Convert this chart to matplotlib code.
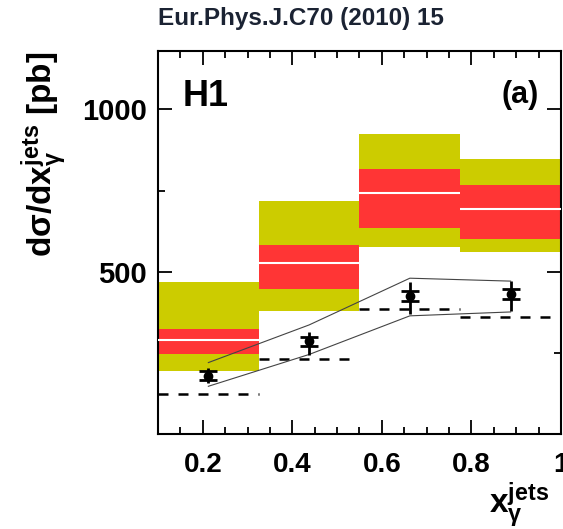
import matplotlib
matplotlib.use("Agg")
import matplotlib.pyplot as plt
from matplotlib.ticker import MultipleLocator, FixedLocator

plt.rcParams['font.family'] = ['Liberation Sans', 'DejaVu Sans']
plt.rcParams['font.weight'] = 'bold'
plt.rcParams['mathtext.fontset'] = 'custom'
plt.rcParams['mathtext.rm'] = 'Liberation Sans:bold'
plt.rcParams['mathtext.it'] = 'Liberation Sans:bold'
plt.rcParams['mathtext.bf'] = 'Liberation Sans:bold'

# bins in x_gamma^jets
bin_edges = [0.1, 0.325, 0.55, 0.775, 1.0]
centers = [0.2125, 0.4375, 0.6625, 0.8875]

# theory band (yellow = total, red = inner, white = central)
outer_lo = [193, 379, 575, 560]
outer_hi = [468, 719, 924, 847]
inner_lo = [245, 446, 636, 602]
inner_hi = [324, 581, 817, 768]
central = [291, 526, 743, 694]

# dashed prediction
dashed = [122, 232, 385, 361]

# thin envelope prediction
env_hi = [220, 336, 480, 471]
env_lo = [147, 245, 364, 376]

# H1 data
data_y = [180, 286, 425, 431]
stat_err = [15, 14, 15, 15]
tot_lo = [24, 44, 55, 52]
tot_hi = [22, 29, 43, 40]


def main():
  fig = plt.figure(figsize=(5.63, 5.29), dpi=100)
  ax = fig.add_axes([0.2806, 0.1796, 0.7158, 0.724])

  lefts = bin_edges[:-1]
  rights = bin_edges[1:]
  widths = [r - l for l, r in zip(lefts, rights)]

  ax.bar(lefts, [h - l for h, l in zip(outer_hi, outer_lo)], bottom=outer_lo,
         width=widths, align='edge', color='#cccc00', linewidth=0, zorder=1)
  ax.bar(lefts, [h - l for h, l in zip(inner_hi, inner_lo)], bottom=inner_lo,
         width=widths, align='edge', color='#ff3535', linewidth=0, zorder=2)
  ax.hlines(central, lefts, rights, colors='white', linewidth=1.5, zorder=3)

  ax.hlines(dashed, lefts, rights, colors='black', linewidth=1.8,
            linestyles=(0, (4, 4)), zorder=4)

  ax.plot(centers, env_hi, color='#444444', linewidth=0.8, zorder=4)
  ax.plot(centers, env_lo, color='#444444', linewidth=0.8, zorder=4)

  ax.errorbar(centers, data_y, yerr=[tot_lo, tot_hi], fmt='o', color='black',
              markersize=6, elinewidth=2, capsize=0, zorder=5)
  ax.errorbar(centers, data_y, yerr=stat_err, fmt='none', ecolor='black',
              elinewidth=2, capsize=6.5, capthick=2, zorder=5)

  ax.set_xlim(0.1, 1.0)
  ax.set_ylim(0, 1180)
  ax.xaxis.set_major_locator(FixedLocator([0.2, 0.4, 0.6, 0.8, 1.0]))
  ax.set_xticklabels(['0.2', '0.4', '0.6', '0.8', '1'])
  ax.xaxis.set_minor_locator(MultipleLocator(0.05))
  ax.yaxis.set_major_locator(FixedLocator([500, 1000]))
  ax.yaxis.set_minor_locator(FixedLocator([250, 750]))

  ax.tick_params(which='both', direction='in', top=True, right=True, width=1.3)
  ax.tick_params(which='major', length=10)
  ax.tick_params(which='minor', length=5)
  ax.tick_params(axis='x', labelsize=20, pad=13)
  ax.tick_params(axis='y', labelsize=21, pad=8)
  for s in ax.spines.values():
    s.set_linewidth(1.5)

  ax.text(0.06, 0.882, 'H1', transform=ax.transAxes, fontsize=26,
          fontweight='bold', ha='left', va='center')
  ax.text(0.945, 0.885, '(a)', transform=ax.transAxes, fontsize=22,
          fontweight='bold', ha='right', va='center')

  fig.text(0.535, 0.965, 'Eur.Phys.J.C70 (2010) 15', fontsize=17.5,
           fontweight='bold', color='#1b2333', ha='center', va='center')
  fig.text(0.078, 0.709, r'd$\mathregular{\sigma}$/dx$_{\gamma}^{jets}$ [pb]',
           rotation=90, fontsize=24, ha='center', va='center')
  fig.text(0.922, 0.045, r'x$_{\gamma}^{jets}$', fontsize=24,
           ha='center', va='center')

  fig.savefig('out.png', dpi=100)


if __name__ == "__main__":
  main()
